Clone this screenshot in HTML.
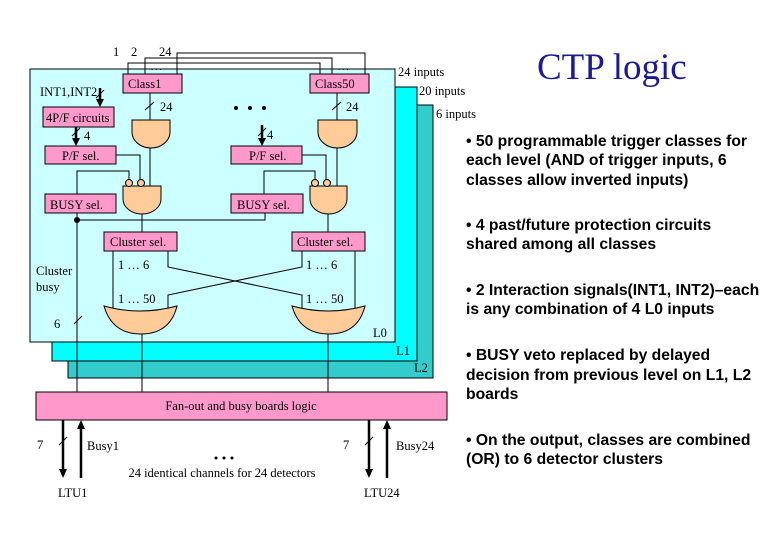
<!DOCTYPE html>
<html><head><style>
body{margin:0;background:#fff;}
svg{display:block;}
.s{font-family:"Liberation Serif",serif;font-size:12.5px;fill:#000;}
.b{font-family:"Liberation Sans",sans-serif;font-size:15.7px;fill:#000;font-weight:bold;}
</style></head><body>
<svg width="780" height="540" viewBox="0 0 780 540" xmlns="http://www.w3.org/2000/svg">
<rect x="68" y="105" width="365" height="273" fill="#33cccc" stroke="#000"/>
<rect x="52" y="87" width="365" height="274" fill="#00ffff" stroke="#000"/>
<rect x="30" y="69" width="365" height="273" fill="#ccffff" stroke="#000"/>
<g fill="none" stroke="#000" stroke-width="1">
<polyline points="128,74 128,63 320,63 320,74"/>
<polyline points="145,74 145,58 332,58 332,74"/>
<polyline points="177,74 177,53 365,53 365,74"/>
<line x1="150" y1="93" x2="150" y2="120"/><line x1="145" y1="110" x2="154" y2="102"/>
<line x1="337" y1="93" x2="337" y2="120"/><line x1="332" y1="110" x2="341" y2="102"/>
<line x1="150" y1="148" x2="150" y2="186"/><line x1="337" y1="148" x2="337" y2="186"/>
<polyline points="116,155 140,155 140,179"/><polyline points="77,194 77,171 129,171 129,179"/>
<polyline points="302,155 326,155 326,179"/><polyline points="264,194 264,171 315,171 315,179"/>
<polyline points="77,213 77,392"/><polyline points="77,220 265,220 265,213"/>
<line x1="142" y1="214" x2="142" y2="232"/><line x1="328" y1="214" x2="328" y2="232"/>
<line x1="113" y1="251" x2="113" y2="310"/><line x1="355" y1="251" x2="355" y2="310"/>
<polyline points="168,251 168,267 302,295 302,310"/><polyline points="302,251 302,267 168,295 168,310"/>
<line x1="142" y1="334" x2="142" y2="392"/><line x1="328" y1="334" x2="328" y2="392"/>
<line x1="74" y1="324" x2="82" y2="316"/>
<line x1="59" y1="445" x2="67" y2="437"/><line x1="365" y1="445" x2="373" y2="437"/>
<line x1="96" y1="98" x2="104" y2="90"/><line x1="72" y1="136" x2="80" y2="128"/><line x1="258" y1="136" x2="266" y2="128"/>
</g>
<g stroke="#000" stroke-width="2.5">
<line x1="100" y1="88" x2="100" y2="100"/>
<line x1="76" y1="127" x2="76" y2="139"/>
<line x1="262" y1="125" x2="262" y2="139"/>
<line x1="63" y1="420" x2="63" y2="470"/>
<line x1="81" y1="478" x2="81" y2="428"/>
<line x1="369" y1="420" x2="369" y2="470"/>
<line x1="387" y1="478" x2="387" y2="428"/>
</g>
<g fill="#000">
<path d="M96,99 H104 L100,107 Z"/><path d="M72,138 H80 L76,146 Z"/><path d="M258,138 H266 L262,146 Z"/>
<path d="M59,469 H67 L63,478 Z"/><path d="M77,429 H85 L81,420 Z"/>
<path d="M365,469 H373 L369,478 Z"/><path d="M383,429 H391 L387,420 Z"/>
</g>
<circle cx="77" cy="220" r="3" fill="#000"/>
<g fill="#ff99cc" stroke="#000">
<rect x="123" y="74" width="59" height="19"/><rect x="310" y="74" width="59" height="19"/>
<rect x="43" y="107" width="71" height="20"/>
<rect x="45" y="146" width="71" height="18"/><rect x="231" y="146" width="71" height="18"/>
<rect x="45" y="194" width="71" height="19"/><rect x="231" y="194" width="72" height="19"/>
<rect x="104" y="232" width="73" height="19"/><rect x="292" y="232" width="73" height="19"/>
<rect x="36" y="392" width="411" height="28"/>
</g>
<g fill="#ffcc99" stroke="#000">
<path d="M132,120 H170 V132 A19,16 0 0 1 132,132 Z"/>
<path d="M318,120 H357 V132 A19.5,16 0 0 1 318,132 Z"/>
<path d="M123,186 H161 V199 A19,15 0 0 1 123,199 Z"/>
<path d="M310,186 H347 V199 A18.5,15 0 0 1 310,199 Z"/>
<circle cx="129" cy="183" r="3.5"/><circle cx="141" cy="183" r="3.5"/>
<circle cx="315" cy="183" r="3.5"/><circle cx="327" cy="183" r="3.5"/>
<path d="M104,306 Q140,316 177,306 Q170,334 141,334 Q112,334 104,306 Z"/>
<path d="M292,306 Q328,316 365,306 Q358,334 329,334 Q300,334 292,306 Z"/>
</g>
<g class="s">
<text x="113" y="56">1</text><text x="131" y="56">2</text><text x="159" y="56">24</text>
<text x="150" y="70">…</text><text x="337" y="70">…</text>
<text x="128" y="88">Class1</text><text x="315" y="88">Class50</text>
<text x="40" y="96">INT1,INT2</text>
<text x="160" y="111">24</text><text x="346" y="111">24</text>
<text x="46" y="122">4P/F circuits</text>
<text x="84" y="140">4</text><text x="267" y="139">4</text>
<text x="62" y="160">P/F sel.</text><text x="249" y="160">P/F sel.</text>
<text x="50" y="209">BUSY sel.</text><text x="237" y="209">BUSY sel.</text>
<text x="110" y="246">Cluster sel.</text><text x="297" y="246">Cluster sel.</text>
<text x="118" y="269">1 …  6</text><text x="306" y="269">1 …  6</text>
<text x="118" y="303">1 … 50</text><text x="306" y="303">1 … 50</text>
<text x="36" y="275">Cluster</text><text x="36" y="291">busy</text>
<text x="54" y="328">6</text>
<text x="373" y="337">L0</text><text x="396" y="355">L1</text><text x="414" y="372">L2</text>
<text x="398" y="76">24 inputs</text><text x="419" y="95">20 inputs</text><text x="436" y="118">6 inputs</text>
<text x="241" y="410" text-anchor="middle">Fan-out and busy boards logic</text>
<text x="37" y="449">7</text><text x="87" y="450">Busy1</text>
<text x="343" y="449">7</text><text x="396" y="450">Busy24</text>
<text x="222" y="477" text-anchor="middle">24 identical channels for 24 detectors</text>
<text x="58" y="497">LTU1</text><text x="364" y="497">LTU24</text>
</g>
<g fill="#000"><circle cx="236" cy="108" r="2"/><circle cx="250" cy="108" r="2"/><circle cx="264" cy="108" r="2"/>
<circle cx="216" cy="458" r="1.5"/><circle cx="224" cy="458" r="1.5"/><circle cx="232" cy="458" r="1.5"/></g>
<text x="537" y="79" style="font-family:'Liberation Serif',serif;font-size:37px;fill:#1a1a99">CTP logic</text>
<g class="b">
<text x="466" y="146">• 50 programmable trigger classes for</text>
<text x="466" y="165">each level (AND of trigger inputs, 6</text>
<text x="466" y="185">classes allow inverted inputs)</text>
<text x="466" y="230">• 4 past/future protection circuits</text>
<text x="466" y="249">shared among all classes</text>
<text x="466" y="295">• 2 Interaction signals(INT1, INT2)–each</text>
<text x="466" y="314">is any combination of 4 L0 inputs</text>
<text x="466" y="360">• BUSY veto replaced by delayed</text>
<text x="466" y="380">decision from previous level on L1, L2</text>
<text x="466" y="399">boards</text>
<text x="466" y="445">• On the output, classes are combined</text>
<text x="466" y="464">(OR) to 6 detector clusters</text>
</g>
</svg>
</body></html>
